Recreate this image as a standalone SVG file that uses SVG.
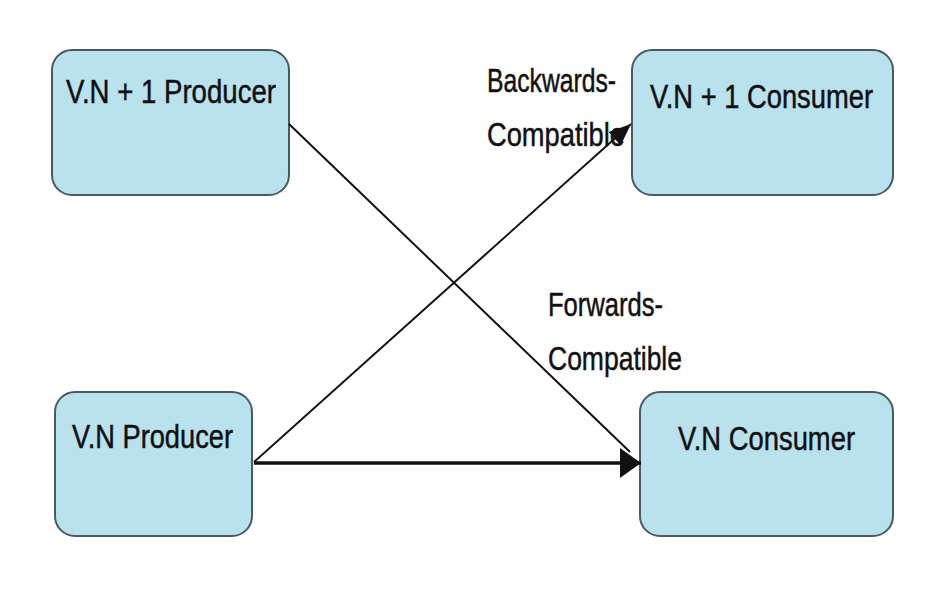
<svg xmlns="http://www.w3.org/2000/svg" width="935" height="608" viewBox="0 0 935 608">
<style>
.box{fill:#b9e1ee;stroke:#4a5a60;stroke-width:2}
.t{font-family:"Liberation Sans",Arial,sans-serif;font-size:34px;fill:#111;stroke:#111;stroke-width:0.5}
.c{stroke:#111;stroke-width:2;fill:none}
.thick{stroke-width:3.5}
</style>
<defs>
<marker id="ah" viewBox="0 0 10 10" refX="10" refY="5" markerWidth="21" markerHeight="30" markerUnits="userSpaceOnUse" orient="auto" preserveAspectRatio="none">
<path d="M0,0 L10,5 L0,10 z" fill="#111"/>
</marker>
<marker id="ahs" viewBox="0 0 10 10" refX="10" refY="5" markerWidth="22" markerHeight="18" markerUnits="userSpaceOnUse" orient="auto" preserveAspectRatio="none">
<path d="M0,0 L10,5 L0,10 z" fill="#111"/>
</marker>
</defs>
<rect width="935" height="608" fill="#fff"/>
<g id="n1"><rect class="box" x="52" y="50" width="237" height="145" rx="20"/><text class="t" x="66" y="103" textLength="210" lengthAdjust="spacingAndGlyphs">V.N + 1 Producer</text></g>
<g id="n2"><rect class="box" x="632" y="50" width="261" height="145" rx="20"/><text class="t" x="650" y="108" textLength="223" lengthAdjust="spacingAndGlyphs">V.N + 1 Consumer</text></g>
<g id="n3"><rect class="box" x="55" y="392" width="197" height="144" rx="20"/><text class="t" x="72" y="448" textLength="161" lengthAdjust="spacingAndGlyphs">V.N Producer</text></g>
<g id="n4"><rect class="box" x="640" y="392" width="253" height="144" rx="20"/><text class="t" x="678" y="450" textLength="177" lengthAdjust="spacingAndGlyphs">V.N Consumer</text></g>
<g id="connectors">
<line class="c" x1="289" y1="124" x2="630" y2="452"/>
<line class="c" x1="254" y1="462" x2="631" y2="124" marker-end="url(#ahs)"/>
<line class="c thick" x1="254" y1="463" x2="641" y2="463" marker-end="url(#ah)"/>
</g>
<g id="labels">
<text class="t" x="487" y="92" textLength="129" lengthAdjust="spacingAndGlyphs">Backwards-</text>
<text class="t" x="487" y="146" textLength="138" lengthAdjust="spacingAndGlyphs">Compatible</text>
<text class="t" x="548" y="316" textLength="115" lengthAdjust="spacingAndGlyphs">Forwards-</text>
<text class="t" x="548" y="370" textLength="134" lengthAdjust="spacingAndGlyphs">Compatible</text>
</g>
</svg>
